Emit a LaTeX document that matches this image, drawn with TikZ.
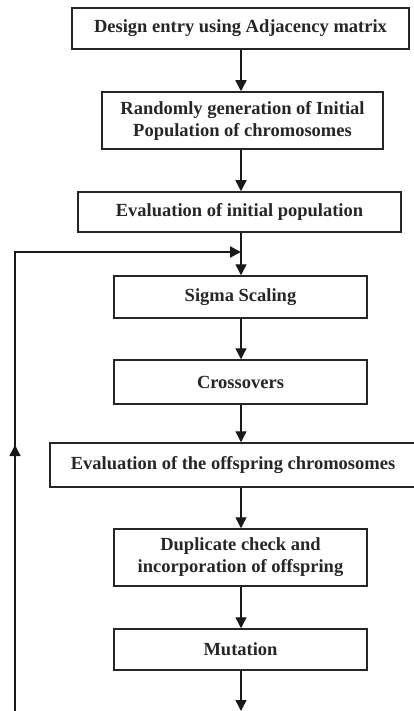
\documentclass[tikz,border=0pt]{standalone}
\usepackage{fontspec}
\setmainfont{Liberation Serif}
\usetikzlibrary{arrows.meta,decorations.markings}
\begin{document}
\begin{tikzpicture}[x=1pt,y=-1pt,
  stepbox/.style={draw=black!85,line width=1.5pt,rectangle,inner sep=0pt,align=center,
     font=\fontsize{18.5}{22}\selectfont\bfseries,text=black!85},
  conn/.style={line width=1.4pt,draw=black!90,-{Triangle[length=11pt,width=11pt]}},
  loopline/.style={line width=1.4pt,draw=black!90}]
\useasboundingbox (0,0) rectangle (414,711);
\clip (0,0) rectangle (414,711);
\node[stepbox,minimum width=337pt,minimum height=41pt] (b1) at (240.5,28.5) {Design entry using Adjacency matrix};
\node[stepbox,minimum width=281pt,minimum height=57pt] (b2) at (242.5,120.5) {Randomly generation of Initial\\Population of chromosomes};
\node[stepbox,minimum width=323pt,minimum height=40pt] (b3) at (239.5,212) {Evaluation of initial population};
\node[stepbox,minimum width=253pt,minimum height=42pt] (b4) at (240.5,297) {Sigma Scaling};
\node[stepbox,minimum width=253pt,minimum height=44pt] (b5) at (240.5,382) {Crossovers};
\node[stepbox,minimum width=366pt,minimum height=44pt] (b6) at (233,465) {Evaluation of the offspring chromosomes};
\node[stepbox,minimum width=253pt,minimum height=57pt] (b7) at (240.5,557.5) {Duplicate check and\\incorporation of offspring};
\node[stepbox,minimum width=253pt,minimum height=41pt] (b8) at (240.5,649.5) {Mutation};
\coordinate (out) at (241,711);
\coordinate (lb) at (15,711);
\coordinate (lt) at (15,252);
\coordinate (jn) at (241,252);
\draw[conn] (b1.south -| 241,0) -- (b2.north -| 241,0);
\draw[conn] (b2.south -| 241,0) -- (b3.north -| 241,0);
\draw[conn] (b3.south -| 241,0) -- (b4.north -| 241,0);
\draw[conn] (b4.south -| 241,0) -- (b5.north -| 241,0);
\draw[conn] (b5.south -| 241,0) -- (b6.north -| 241,0);
\draw[conn] (b6.south -| 241,0) -- (b7.north -| 241,0);
\draw[conn] (b7.south -| 241,0) -- (b8.north -| 241,0);
\draw[conn] (b8.south -| 241,0) -- (out);
\draw[conn] (lb) -- (15,445);
\draw[loopline] (15,450) -- (lt);
\draw[line width=2.2pt,draw=black!90,-{Triangle[length=11pt,width=11pt]}] ([xshift=-1.1pt]lt) -- (jn);
\end{tikzpicture}
\end{document}
